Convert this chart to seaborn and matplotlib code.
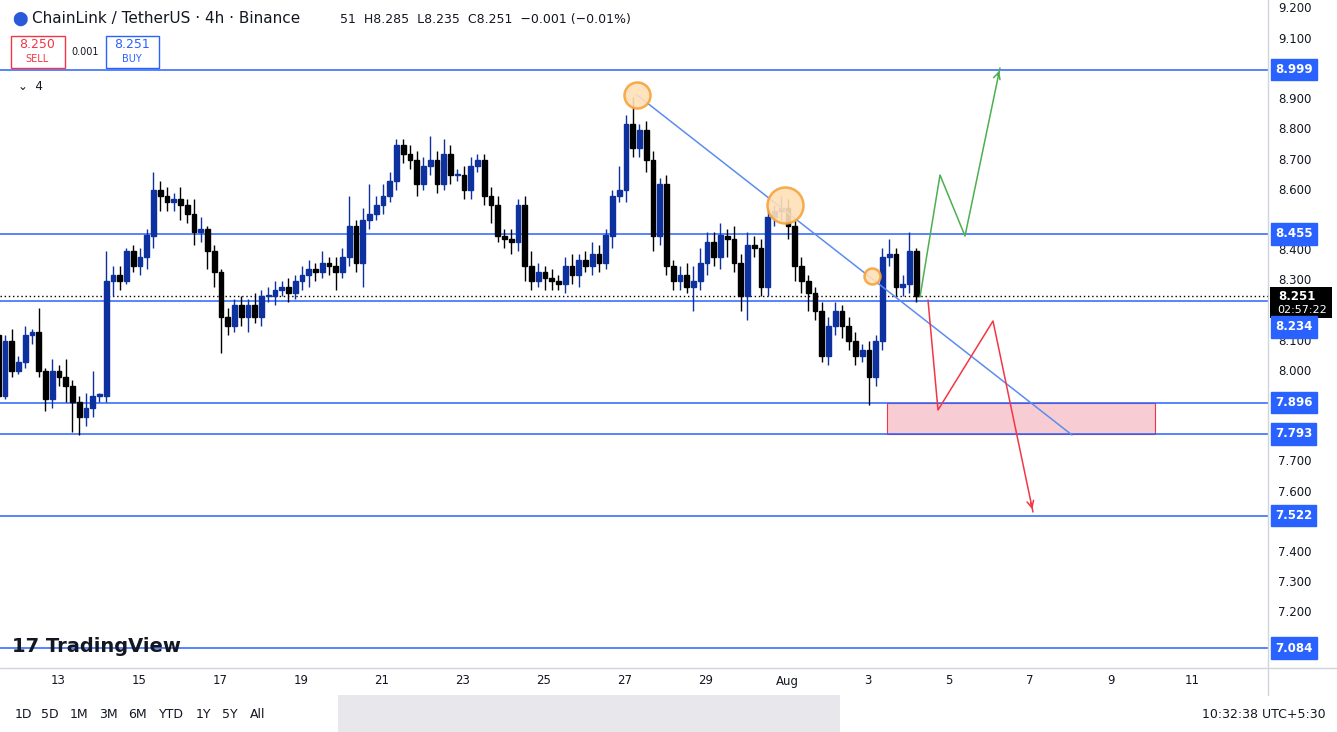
import numpy as np
import pandas as pd
import matplotlib
matplotlib.use("Agg")
import matplotlib.pyplot as plt
import seaborn as sns
from matplotlib.patches import Rectangle

sns.set_theme(style="white")
plt.rcParams['font.family'] = ['DejaVu Sans']

first_open = 8.12
closes = [8.05, 8.12, 7.92, 8.10, 8.00, 8.03, 8.12, 8.13, 8.00, 7.91, 8.00, 7.98, 7.95, 7.90, 7.85, 7.88, 7.92, 7.92,
          8.30, 8.32, 8.30, 8.40, 8.35, 8.38, 8.45, 8.60, 8.58, 8.56, 8.57, 8.55, 8.52, 8.46, 8.47, 8.40, 8.33, 8.18,
          8.15, 8.22, 8.18, 8.22, 8.18, 8.25, 8.25, 8.27, 8.28, 8.26, 8.30, 8.32, 8.34, 8.33, 8.36, 8.35, 8.33, 8.38,
          8.48, 8.36, 8.50, 8.52, 8.55, 8.58, 8.63, 8.75, 8.72, 8.70, 8.62, 8.68, 8.70, 8.62, 8.72, 8.65, 8.65, 8.60,
          8.68, 8.70, 8.58, 8.55, 8.45, 8.44, 8.43, 8.55, 8.35, 8.30, 8.33, 8.31, 8.30, 8.29, 8.35, 8.32, 8.37, 8.35,
          8.39, 8.36, 8.45, 8.58, 8.60, 8.82, 8.74, 8.80, 8.70, 8.45, 8.62, 8.35, 8.30, 8.32, 8.28, 8.30, 8.36, 8.43,
          8.38, 8.45, 8.44, 8.36, 8.25, 8.42, 8.41, 8.28, 8.51, 8.53, 8.54, 8.48, 8.35, 8.30, 8.26, 8.20, 8.05, 8.15,
          8.20, 8.15, 8.10, 8.05, 8.07, 7.98, 8.10, 8.38, 8.39, 8.28, 8.29, 8.40, 8.25]
upper_wick = [0.03, 0.05, 0.01, 0.02, 0.04, 0.02, 0.03, 0.01, 0.08, 0.01, 0.04, 0.02, 0.06, 0.02, 0.02, 0.05, 0.08, 0.01,
              0.10, 0.03, 0.03, 0.01, 0.02, 0.03, 0.02, 0.06, 0.03, 0.03, 0.02, 0.04, 0.02, 0.05, 0.04, 0.01, 0.02, 0.01,
              0.03, 0.02, 0.03, 0.02, 0.04, 0.02, 0.03, 0.03, 0.02, 0.03, 0.02, 0.03, 0.03, 0.02, 0.04, 0.02, 0.03, 0.03,
              0.10, 0.02, 0.04, 0.10, 0.03, 0.04, 0.03, 0.02, 0.02, 0.03, 0.03, 0.03, 0.08, 0.03, 0.05, 0.03, 0.02, 0.03,
              0.03, 0.02, 0.02, 0.03, 0.03, 0.02, 0.03, 0.02, 0.03, 0.05, 0.03, 0.02, 0.03, 0.02, 0.03, 0.04, 0.02, 0.03,
              0.04, 0.03, 0.02, 0.02, 0.08, 0.03, 0.09, 0.02, 0.03, 0.03, 0.02, 0.03, 0.02, 0.03, 0.04, 0.05, 0.05, 0.03,
              0.03, 0.04, 0.02, 0.04, 0.03, 0.04, 0.03, 0.03, 0.03, 0.02, 0.04, 0.03, 0.02, 0.03, 0.02, 0.02, 0.03, 0.03,
              0.03, 0.02, 0.03, 0.03, 0.02, 0.03, 0.02, 0.03, 0.05, 0.02, 0.03, 0.06, 0.01]
lower_wick = [0.01, 0.01, 0.05, 0.01, 0.02, 0.01, 0.02, 0.03, 0.02, 0.04, 0.03, 0.03, 0.05, 0.10, 0.06, 0.03, 0.03, 0.02,
              0.02, 0.05, 0.03, 0.01, 0.02, 0.03, 0.04, 0.04, 0.05, 0.03, 0.03, 0.05, 0.03, 0.04, 0.03, 0.06, 0.05, 0.12,
              0.03, 0.02, 0.03, 0.05, 0.02, 0.03, 0.02, 0.03, 0.02, 0.03, 0.02, 0.03, 0.04, 0.03, 0.02, 0.03, 0.06, 0.02,
              0.03, 0.03, 0.08, 0.03, 0.02, 0.03, 0.02, 0.03, 0.03, 0.03, 0.04, 0.02, 0.03, 0.03, 0.02, 0.03, 0.02, 0.03,
              0.03, 0.02, 0.03, 0.06, 0.02, 0.03, 0.04, 0.03, 0.05, 0.03, 0.02, 0.04, 0.03, 0.02, 0.03, 0.03, 0.04, 0.02,
              0.03, 0.03, 0.02, 0.04, 0.02, 0.04, 0.03, 0.03, 0.04, 0.05, 0.03, 0.03, 0.03, 0.03, 0.02, 0.08, 0.03, 0.04,
              0.03, 0.04, 0.06, 0.03, 0.05, 0.08, 0.03, 0.03, 0.03, 0.03, 0.03, 0.04, 0.05, 0.04, 0.06, 0.03, 0.02, 0.03,
              0.03, 0.04, 0.03, 0.03, 0.02, 0.09, 0.03, 0.03, 0.03, 0.03, 0.03, 0.03, 0.02]

levels = [8.999, 8.455, 8.234, 7.896, 7.793, 7.522, 7.084]
current_price = 8.251
price_ticks = [7.1, 7.2, 7.3, 7.4, 7.5, 7.6, 7.7, 7.8, 7.9, 8.0, 8.1, 8.2, 8.3, 8.4, 8.5, 8.6, 8.7, 8.8, 8.9, 9.0, 9.1, 9.2]
date_labels = ["13", "15", "17", "19", "21", "23", "25", "27", "29", "Aug", "3", "5", "7", "9", "11"]

n = len(closes)
opens = [first_open] + closes[:-1]
t = 21.19 - (n - 1) / 6.0 + np.arange(n) / 6.0
df = pd.DataFrame({"t": t, "open": opens, "close": closes,
                   "uw": upper_wick[:n], "lw": lower_wick[:n]})
df["high"] = df[["open", "close"]].max(axis=1) + df["uw"]
df["low"] = df[["open", "close"]].min(axis=1) - df["lw"]
df["up"] = df["close"] >= df["open"]

W, H = 1337, 732
fig = plt.figure(figsize=(W / 100, H / 100), dpi=100)
ax = fig.add_axes([0, 1 - 668 / H, 1268 / W, 668 / H])

def px(x):
    return (x - 58) / 40.5
def py(y):
    return 9.2 - (y - 9) / 302
def fy(p):
    return 1 - (9 + (9.2 - p) * 302) / H

ax.set_xlim(px(0), px(1268))
ax.set_ylim(py(668), py(0))

BLUE = "#0d32a0"
for _, r in df.iterrows():
    col = BLUE if r["up"] else "black"
    ax.vlines(r["t"], r["low"], r["high"], color=col, lw=1.0, zorder=3)
    lo, hi = min(r["open"], r["close"]), max(r["open"], r["close"])
    ax.add_patch(Rectangle((r["t"] - 0.06, lo), 0.12, max(hi - lo, 0.004), color=col, zorder=4))

LINE = "#2962ff"
for lv in levels:
    ax.axhline(lv, color=LINE, lw=1.1, zorder=2)
ax.axhline(current_price, color="black", lw=1, ls=(0, (1, 2)), zorder=2)

ax.add_patch(Rectangle((px(887), 7.793), px(1155) - px(887), 7.896 - 7.793,
                       facecolor="#f7ccd2", edgecolor="#f23645", lw=0.8, zorder=1))
ax.plot([px(637), px(1072)], [py(95), py(435)], color="#5b8cf0", lw=1.1, zorder=5)
for (cx, cy, s) in [(637, 95, 26), (785, 205, 36), (872, 276, 16)]:
    ax.plot(px(cx), py(cy), "o", ms=s * 0.72, mfc="#ffe0b8", mec="#f7a33a", mew=1.8, alpha=0.9, zorder=6)
g = [(920, 297), (940, 175), (965, 236), (1000, 68)]
ax.plot([px(a) for a, b in g], [py(b) for a, b in g], color="#4caf50", lw=1.1, zorder=5)
ax.annotate("", xy=(px(1000), py(68)), xytext=(px(997), py(78)),
            arrowprops=dict(arrowstyle="->", color="#4caf50", lw=1.1))
rr = [(928, 300), (938, 410), (993, 321), (1033, 512)]
ax.plot([px(a) for a, b in rr], [py(b) for a, b in rr], color="#f23645", lw=1.1, zorder=5)
ax.annotate("", xy=(px(1033), py(512)), xytext=(px(1030), py(500)),
            arrowprops=dict(arrowstyle="->", color="#f23645", lw=1.1))

ax.set_xticks([])
ax.set_yticks([])
for s in ax.spines.values():
    s.set_visible(False)

fig.add_artist(plt.Line2D([1268 / W, 1268 / W], [1 - 695 / H, 1], color="#d1d4dc", lw=1))
fig.add_artist(plt.Line2D([0, 1], [1 - 668 / H, 1 - 668 / H], color="#d1d4dc", lw=1))
blocked = levels + [current_price, 8.20]
for p in price_ticks:
    if min(abs(p - b) for b in blocked) < 0.045:
        continue
    fig.text(1278 / W, fy(p), f"{p:.3f}", fontsize=8.5, color="#131722", va="center")
for lv in levels:
    yy = fy(lv) if lv != 8.234 else 1 - 327 / H
    fig.text(1275 / W, yy, f"{lv:.3f}", fontsize=8.5, color="white", va="center", weight="bold",
             bbox=dict(boxstyle="square,pad=0.35", fc=LINE, ec=LINE))
yy = fy(current_price)
fig.add_artist(Rectangle((1270 / W, 1 - 318 / H), 62 / W, 31 / H, fc="black", ec="none", transform=fig.transFigure))
fig.text(1278 / W, 1 - 296 / H, "8.251", fontsize=8.5, color="white", va="center", weight="bold")
fig.text(1277 / W, 1 - 310 / H, "02:57:22", fontsize=8, color="white", va="center")

for i, lab in enumerate(date_labels):
    x = (58 + i * 81) / W
    fig.text(x, 1 - 681 / H, lab, fontsize=8.5, color="#131722", ha="center", va="center")

fig.text(32 / W, 1 - 19 / H, "ChainLink / TetherUS · 4h · Binance", fontsize=11, color="#131722", va="center")
fig.text(340 / W, 1 - 19 / H, "51  H8.285  L8.235  C8.251  −0.001 (−0.01%)", fontsize=9, color="#131722", va="center")
fig.text(12 / W, 1 - 19 / H, "⬤", fontsize=10, color="#2a5ada", va="center")
fig.text(37 / W, 1 - 45 / H, "8.250", fontsize=9, color="#f23645", ha="center", va="center")
fig.text(37 / W, 1 - 59 / H, "SELL", fontsize=7, color="#f23645", ha="center", va="center")
fig.add_artist(Rectangle((11 / W, 1 - 68 / H), 54 / W, 32 / H, fill=False, ec="#f23645", lw=1, transform=fig.transFigure))
fig.text(85 / W, 1 - 52 / H, "0.001", fontsize=7, color="#131722", ha="center", va="center")
fig.text(132 / W, 1 - 45 / H, "8.251", fontsize=9, color="#2962ff", ha="center", va="center")
fig.text(132 / W, 1 - 59 / H, "BUY", fontsize=7, color="#2962ff", ha="center", va="center")
fig.add_artist(Rectangle((106 / W, 1 - 68 / H), 53 / W, 32 / H, fill=False, ec="#2962ff", lw=1, transform=fig.transFigure))
fig.text(18 / W, 1 - 87 / H, "⌄  4", fontsize=8.5, color="#131722", va="center")
fig.text(12 / W, 1 - 646 / H, "17 TradingView", fontsize=14, color="#131722", weight="bold", va="center")

tb = ["1D", "5D", "1M", "3M", "6M", "YTD", "1Y", "5Y", "All"]
xs = [23, 50, 79, 108, 137, 171, 203, 230, 258]
for x, lab in zip(xs, tb):
    fig.text(x / W, 1 - 715 / H, lab, fontsize=9, color="#131722", ha="center", va="center")
fig.add_artist(Rectangle((338 / W, 0), 502 / W, 37 / H, fc="#e8e8ec", ec="none", transform=fig.transFigure, zorder=-1))
fig.text(1326 / W, 1 - 715 / H, "10:32:38 UTC+5:30", fontsize=9, color="#131722", ha="right", va="center")

fig.savefig("out.png", dpi=100)
